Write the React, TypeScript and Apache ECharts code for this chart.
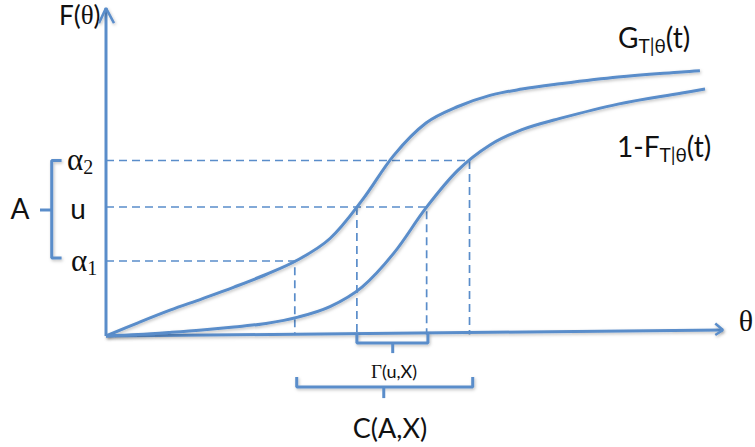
import React, { useEffect, useRef } from "react";
import * as echarts from "echarts";

// Curves: [theta, F] pairs
const gCurve: number[][] = [
  [0, 0], [0.5, 0.044], [1, 0.086], [1.5, 0.124], [2, 0.163], [2.5, 0.205],
  [3, 0.254], [3.5, 0.325], [4, 0.452], [4.5, 0.603], [5, 0.71], [5.5, 0.765],
  [6, 0.802], [6.5, 0.823], [7, 0.838], [8, 0.863], [9, 0.88], [9.28, 0.884],
];
const fCurve: number[][] = [
  [0, 0], [0.5, 0.005], [1, 0.012], [1.5, 0.02], [2, 0.03], [2.5, 0.042],
  [3, 0.063], [3.5, 0.098], [4, 0.163], [4.5, 0.277], [5, 0.427], [5.5, 0.553],
  [6, 0.637], [6.5, 0.688], [7, 0.72], [8, 0.773], [9, 0.81], [9.36, 0.823],
];

// Levels on the F axis
const ALPHA1 = 0.25;
const U = 0.43;
const ALPHA2 = 0.585;
// Theta positions where levels meet the curves
const THETA_A1_G = 2.95;
const THETA_U_G = 3.92;
const THETA_U_F = 5.01;
const THETA_A2_F = 5.68;

// Axes extents
const X_AXIS_END: number[] = [9.64, 0.02];
const Y_AXIS_END: number[] = [0, 1.093];

const BLUE = "#5a8dca";
const SANS = "Lato, 'Open Sans', sans-serif";
const SERIF = "'Liberation Serif', 'DejaVu Serif', serif";
const INK = "#111";

export default function App() {
  const ref = useRef<HTMLDivElement>(null);
  useEffect(() => {
    document.body.style.margin = "0";
    const chart = echarts.init(ref.current!, null, { renderer: "svg" });
    const shadow = {
      shadowBlur: 3,
      shadowColor: "rgba(0,0,0,0.25)",
      shadowOffsetX: 1,
      shadowOffsetY: 1.5,
    };
    const solid = (data: number[][], smooth: boolean | number = false, width = 3, withShadow = true) => ({
      type: "line",
      data,
      smooth,
      symbol: "none",
      silent: true,
      lineStyle: { color: BLUE, width, ...(withShadow ? shadow : {}) },
    });
    const dashed = (data: number[][]) => ({
      type: "line",
      data,
      symbol: "none",
      silent: true,
      lineStyle: { color: BLUE, width: 1.7, type: [8, 5] },
    });
    const axisEnd = 0.005;
    const sub = (size: number, lh: number) => ({
      fontFamily: SANS, fontSize: size, lineHeight: lh, verticalAlign: "bottom", fill: INK,
    });
    chart.setOption({
      animation: false,
      grid: { left: 0, right: 9, top: 0, bottom: 0 },
      xAxis: { type: "value", min: -1.65625, max: 10, show: false },
      yAxis: { type: "value", min: -0.37, max: 1.12, show: false },
      series: [
        dashed([[0, ALPHA1], [THETA_A1_G, ALPHA1], [THETA_A1_G, axisEnd]]),
        dashed([[0, U], [THETA_U_F, U], [THETA_U_F, axisEnd]]),
        dashed([[THETA_U_G, U], [THETA_U_G, axisEnd]]),
        dashed([[0, ALPHA2], [THETA_A2_F, ALPHA2], [THETA_A2_F, axisEnd]]),
        solid([[0, 0], X_AXIS_END]),
        solid([[9.52, 0.0417], X_AXIS_END, [9.52, 0.0033]], false, 2.5),
        solid([[0, 0], Y_AXIS_END], false, 3, false),
        solid([[-0.11, 1.043], Y_AXIS_END, [0.125, 1.043]], false, 2.5),
        solid(gCurve, 0.35),
        solid(fCurve, 0.35),
        // Gamma bracket
        solid([[THETA_U_G, 0.01], [THETA_U_G, -0.023], [THETA_U_F + 0.02, -0.023], [THETA_U_F + 0.02, 0.01]]),
        solid([[4.48, -0.023], [4.48, -0.057]], false, 3, false),
        // C bracket
        solid([[THETA_A1_G + 0.03, -0.137], [THETA_A1_G + 0.03, -0.17], [THETA_A2_F + 0.05, -0.17], [THETA_A2_F + 0.05, -0.137]]),
        solid([[4.34, -0.17], [4.34, -0.207]], false, 3, false),
        // A bracket
        solid([[-0.694, ALPHA2], [-0.848, ALPHA2], [-0.848, ALPHA1 + 0.01], [-0.694, ALPHA1 + 0.01]]),
        solid([[-0.848, 0.42], [-1.031, 0.42]], false, 3, false),
      ],
      graphic: [
        {
          type: "text", x: 59, y: 15,
          style: {
            text: "{m|F(}{g|θ}{m|)}", textAlign: "left", textVerticalAlign: "middle",
            rich: {
              m: { fontFamily: SANS, fontSize: 26, fill: INK },
              g: { fontFamily: SERIF, fontSize: 27, fill: INK },
            },
          },
        },
        {
          type: "text", x: 618, y: 37,
          style: {
            text: "{m|G}{s|T|θ}{m|(t)}", textAlign: "left", textVerticalAlign: "middle",
            rich: {
              m: { fontFamily: SANS, fontSize: 28, lineHeight: 36, fill: INK },
              s: sub(19, 16),
            },
          },
        },
        {
          type: "text", x: 617, y: 146,
          style: {
            text: "{m|1-F}{s|T|θ}{m|(t)}", textAlign: "left", textVerticalAlign: "middle",
            rich: {
              m: { fontFamily: SANS, fontSize: 28, lineHeight: 36, fill: INK },
              s: sub(19, 16),
            },
          },
        },
        {
          type: "text", x: 67, y: 159,
          style: {
            text: "{a|α}{s|2}", textAlign: "left", textVerticalAlign: "middle",
            rich: {
              a: { fontFamily: SERIF, fontSize: 31, lineHeight: 36, fill: INK },
              s: { fontFamily: SERIF, fontSize: 20, lineHeight: 18, verticalAlign: "bottom", fill: INK },
            },
          },
        },
        {
          type: "text", x: 71, y: 260,
          style: {
            text: "{a|α}{s|1}", textAlign: "left", textVerticalAlign: "middle",
            rich: {
              a: { fontFamily: SERIF, fontSize: 31, lineHeight: 36, fill: INK },
              s: { fontFamily: SERIF, fontSize: 20, lineHeight: 16, verticalAlign: "bottom", fill: INK },
            },
          },
        },
        {
          type: "text", x: 78, y: 208,
          style: { text: "u", fontFamily: SANS, fontSize: 28, fill: INK, textAlign: "center", textVerticalAlign: "middle" },
        },
        {
          type: "text", x: 20, y: 208,
          style: { text: "A", fontFamily: SANS, fontSize: 28, fill: INK, textAlign: "center", textVerticalAlign: "middle" },
        },
        {
          type: "text", x: 746, y: 320,
          style: { text: "θ", fontFamily: SERIF, fontSize: 30, fill: INK, textAlign: "center", textVerticalAlign: "middle" },
        },
        {
          type: "text", x: 394, y: 371,
          style: {
            text: "{g|Γ}{m|(u,X)}", textAlign: "center", textVerticalAlign: "middle",
            rich: {
              g: { fontFamily: SERIF, fontSize: 19, fill: INK },
              m: { fontFamily: SANS, fontSize: 18, fill: INK },
            },
          },
        },
        {
          type: "text", x: 390, y: 427,
          style: { text: "C(A,X)", fontFamily: SANS, fontSize: 27, fill: INK, textAlign: "center", textVerticalAlign: "middle" },
        },
      ],
    });
    return () => chart.dispose();
  }, []);
  return <div ref={ref} style={{ width: 755, height: 447 }} />;
}
